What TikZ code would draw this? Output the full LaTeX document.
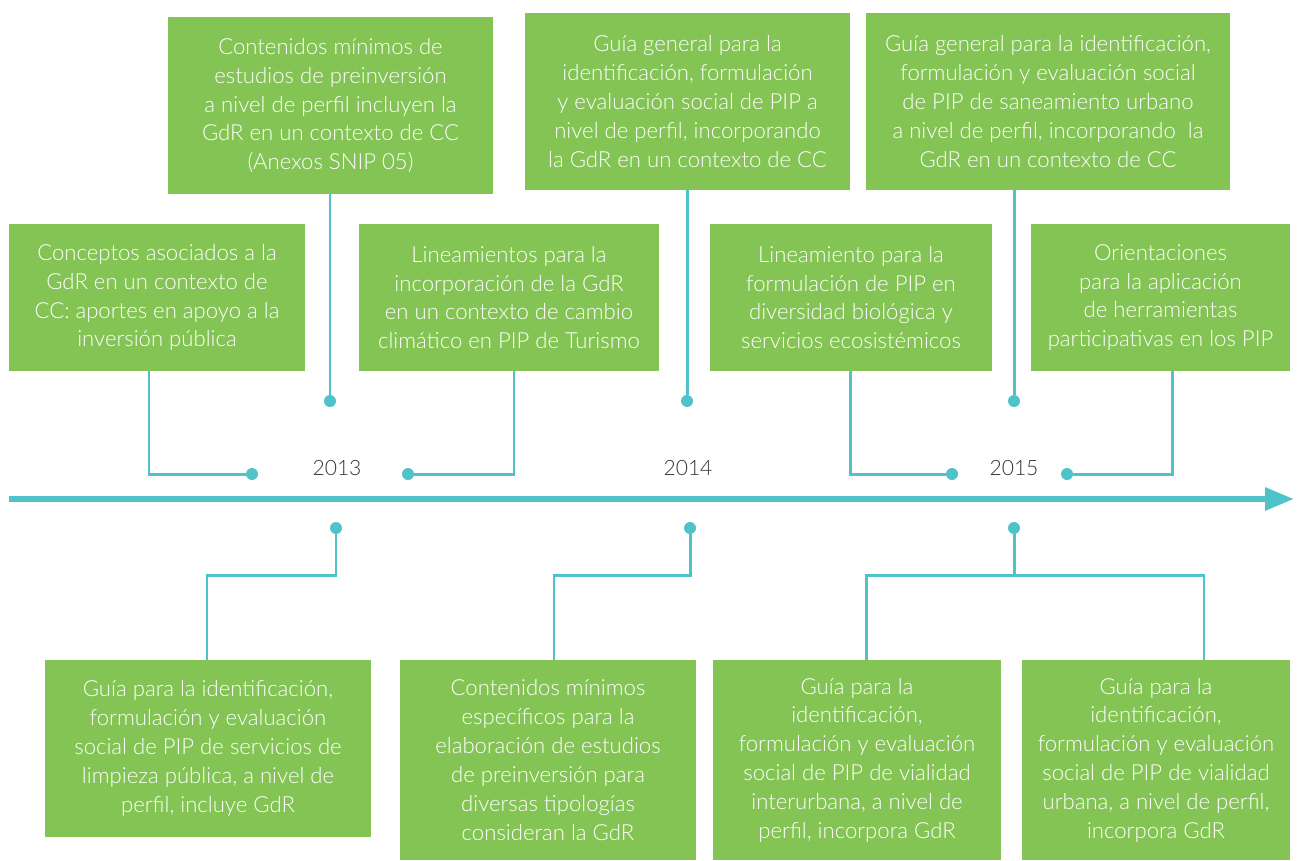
\documentclass[tikz,border=0pt]{standalone}
\usepackage{fontspec}
\setmainfont{Lato Light}
\usetikzlibrary{arrows.meta}
\definecolor{gr}{HTML}{84C455}
\definecolor{tl}{HTML}{50C3C8}
\definecolor{yr}{HTML}{333333}
\begin{document}
\begin{tikzpicture}[x=0.02cm,y=-0.02cm,
 gbox/.style={fill=gr, text=white, align=center, inner sep=0pt, font=\fontsize{12.6}{16.4}\selectfont},
 dot/.style={circle, fill=tl, inner sep=0pt, minimum size=0.24cm},
 conn/.style={draw=tl, line width=1.7pt},
 axisline/.style={draw=tl, line width=3.4pt, -{Triangle[length=0.58cm,width=0.44cm]}},
 year/.style={text=yr, inner sep=0pt, font=\fontsize{12}{14}\selectfont}]
\useasboundingbox (0,0) rectangle (1298,860);

% axis
\coordinate (axS) at (9,499);
\coordinate (axE) at (1294,499);
\draw[axisline] (axS) -- (axE);

% years
\node[year] (y1) at (337,468) {2013};
\node[year] (y2) at (688,468) {2014};
\node[year] (y3) at (1014,468) {2015};

% upper high boxes
\node[gbox, minimum width=6.5cm, minimum height=3.54cm] (b1) at (330.5,105.5) {Contenidos mínimos de\\estudios de preinversión\\a nivel de perfil incluyen la\\GdR en un contexto de CC\\(Anexos SNIP 05)};
\node[gbox, minimum width=6.5cm, minimum height=3.54cm] (b2) at (687.5,101.5) {Guía general para la\\identificación, formulación\\y evaluación social de PIP a\\nivel de perfil, incorporando\\la GdR en un contexto de CC};
\node[gbox, minimum width=7.28cm, minimum height=3.54cm] (b3) at (1048,101.5) {Guía general para la identificación,\\formulación y evaluación social\\de PIP de saneamiento urbano\\a nivel de perfil, incorporando \ la\\GdR en un contexto de CC};

% upper low boxes
\node[gbox, minimum width=5.92cm, minimum height=2.94cm] (b4) at (157,297.5) {Conceptos asociados a la\\GdR en un contexto de\\CC: aportes en apoyo a la\\inversión pública};
\node[gbox, minimum width=6.0cm, minimum height=2.94cm] (b5) at (509,297.5) {Lineamientos para la\\incorporación de la GdR\\en un contexto de cambio\\climático en PIP de Turismo};
\node[gbox, minimum width=5.64cm, minimum height=2.94cm] (b6) at (851,297.5) {Lineamiento para la\\formulación de PIP en\\diversidad biológica y\\servicios ecosistémicos};
\node[gbox, minimum width=5.18cm, minimum height=2.94cm] (b7) at (1160.5,297.5) {Orientaciones\\para la aplicación\\de herramientas\\participativas en los PIP};

% lower boxes
\node[gbox, minimum width=6.52cm, minimum height=3.54cm] (b8) at (208,748.5) {Guía para la identificación,\\formulación y evaluación\\social de PIP de servicios de\\limpieza pública, a nivel de\\perfil, incluye GdR};
\node[gbox, minimum width=5.92cm, minimum height=4.0cm] (b9) at (548,760) {Contenidos mínimos\\específicos para la\\elaboración de estudios\\de preinversión para\\diversas tipologías\\consideran la GdR};
\node[gbox, minimum width=5.76cm, minimum height=4.0cm] (b10) at (857,760) {Guía para la\\identificación,\\formulación y evaluación\\social de PIP de vialidad\\interurbana, a nivel de\\perfil, incorpora GdR};
\node[gbox, minimum width=5.36cm, minimum height=4.0cm] (b11) at (1156,760) {Guía para la\\identificación,\\formulación y evaluación\\social de PIP de vialidad\\urbana, a nivel de perfil,\\incorpora GdR};

% dots
\node[dot] (d1) at (330,401) {};
\node[dot] (d2) at (687,401) {};
\node[dot] (d3) at (1014,401) {};
\node[dot] (d4) at (252,474) {};
\node[dot] (d5) at (408,474) {};
\node[dot] (d6) at (952,474) {};
\node[dot] (d7) at (1067,474) {};
\node[dot] (d8) at (336,528) {};
\node[dot] (d9) at (690,528) {};
\node[dot] (d10) at (1014,528) {};

% connectors upper
\draw[conn] (b1.south -| d1) -- (d1);
\draw[conn] (b2.south -| d2) -- (d2);
\draw[conn] (b3.south -| d3) -- (d3);
\draw[conn] ([xshift=-0.16cm]b4.south) |- (d4);
\draw[conn] ([xshift=0.1cm]b5.south) |- (d5);
\draw[conn] ([xshift=-0.02cm]b6.south) |- (d6);
\draw[conn] ([xshift=0.23cm]b7.south) |- (d7);

% connectors lower
\coordinate (e8) at (336,575);
\coordinate (e9) at (690,575);
\coordinate (e10) at (1014,575);
\draw[conn] (d8) -- (e8) -| ([xshift=-0.02cm]b8.north);
\draw[conn] (d9) -- (e9) -| ([xshift=0.12cm]b9.north);
\draw[conn] (d10) -- (e10);
\draw[conn] ([xshift=0.18cm]b10.north) |- (e10) -| ([xshift=0.96cm]b11.north);
\end{tikzpicture}
\end{document}
